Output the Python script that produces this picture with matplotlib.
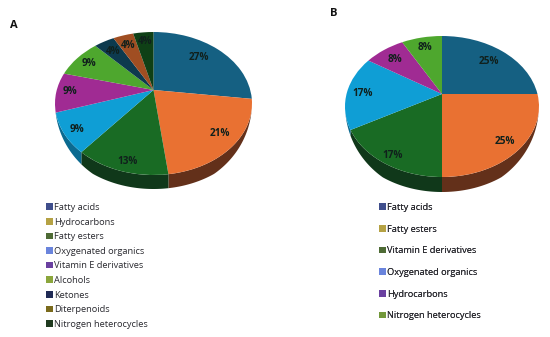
import numpy as np
import matplotlib
matplotlib.use("Agg")
import matplotlib.pyplot as plt
from matplotlib.patches import Patch
from matplotlib.transforms import Transform

plt.rcParams['font.family'] = ['Open Sans', 'DejaVu Sans']

labels_a = ["Fatty acids", "Hydrocarbons", "Fatty esters", "Oxygenated organics",
            "Vitamin E derivatives", "Alcohols", "Ketones", "Diterpenoids",
            "Nitrogen heterocycles"]
values_a = [27, 21, 13, 9, 9, 9, 4, 4, 4]
labels_b = ["Fatty acids", "Fatty esters", "Vitamin E derivatives",
            "Oxygenated organics", "Hydrocarbons", "Nitrogen heterocycles"]
values_b = [25, 25, 17, 17, 8, 8]

slice_colors = ["#156082", "#E97132", "#196B24", "#0F9ED5", "#A02B93", "#4EA72E",
                "#0D3A4E", "#A04E22", "#0F4016"]
side_colors = ["#0B3446", "#63301A", "#10381A", "#0B6A90", "#6A1D62", "#2F6A1C",
               "#07202B", "#5E2E14", "#08240C"]
legend_a = ["#3F4E8C", "#B5A244", "#4E6B35", "#6A84DC", "#6A40A0", "#8BA63C",
            "#1F2A55", "#7A6A1C", "#1F3A20"]
legend_b = ["#3F4E8C", "#B5A244", "#4E6B35", "#6A84DC", "#6A40A0", "#72983A"]

# layout only: where each percentage label sits, in figure pixels
label_xy_a = [(199, 57), (220, 134), (128, 162), (77, 129), (70, 92), (89, 63),
              (113, 51), (128, 45), (145, 41)]
label_xy_b = [(489, 61), (505, 141), (393, 155), (363, 93), (395, 60), (425, 47)]


class Perspective(Transform):
    input_dims = output_dims = 2

    def __init__(self, cx, cy, up, down, rx):
        super().__init__()
        self.k = (down / up - 1) / (down / up + 1)
        self.a = up * (1 + self.k)
        self.b = rx * np.sqrt(1 - self.k ** 2)
        self.cx, self.cy = cx, cy

    def transform_non_affine(self, pts):
        pts = np.asarray(pts, dtype=float)
        den = 1 + self.k * pts[:, 1]
        return np.column_stack([self.cx + self.b * pts[:, 0] / den,
                                self.cy - self.a * pts[:, 1] / den])


fig = plt.figure(figsize=(5.5, 3.37), dpi=100, facecolor="white")
ax = fig.add_axes([0, 0, 1, 1])


def draw_pie(values, persp, depth, label_xy):
    wedges, _, autotexts = ax.pie(values, colors=slice_colors, startangle=90,
                                  counterclock=False, autopct='%d%%',
                                  textprops=dict(fontsize=7.2, fontweight='bold',
                                                 color='#10201c'))
    for w, side in zip(wedges, side_colors):
        w.set_transform(persp + ax.transData)
        w.set_zorder(2)
        th = np.radians(np.linspace(w.theta1, w.theta2, 80))
        rim = persp.transform(np.column_stack([np.cos(th), np.sin(th)]))
        taper = np.clip((-np.sin(th) - 0.25) / 0.6, 0, 1)
        shifted = rim + np.column_stack([np.zeros_like(th), depth * taper])
        ax.fill(np.r_[rim[:, 0], shifted[::-1, 0]], np.r_[rim[:, 1], shifted[::-1, 1]],
                color=side, lw=0, zorder=1)
    for t, xy in zip(autotexts, label_xy):
        t.set_position(xy)
        t.set_zorder(3)


persp_a = Perspective(153.5, 90, 58, 85, 98.5)
persp_b = Perspective(442, 94, 58, 83, 97)
draw_pie(values_a, persp_a, 14, label_xy_a)
draw_pie(values_b, persp_b, 15, label_xy_b)

ax.set_aspect('auto')
ax.set_xlim(0, 550)
ax.set_ylim(337, 0)
ax.axis('off')


def add_legend(names, colors, x, top, spacing):
    handles = [Patch(facecolor=c, edgecolor='none', label=n) for n, c in zip(names, colors)]
    leg = ax.legend(handles=handles, loc='upper left', bbox_to_anchor=(x, top),
                    bbox_transform=ax.transData, frameon=False, borderpad=0,
                    borderaxespad=0, fontsize=6.7, handlelength=0.7, handleheight=0.7,
                    handletextpad=0.15, labelspacing=spacing, labelcolor='#2a2a30')
    ax.add_artist(leg)


add_legend(labels_a, legend_a, 46, 203, 0.6)
add_legend(labels_b, legend_b, 379, 203, 1.36)

ax.text(14, 25, "A", fontsize=8, fontweight='bold', ha='center', va='center', color='#111111')
ax.text(333.5, 13, "B", fontsize=8, fontweight='bold', ha='center', va='center', color='#111111')

fig.savefig("out.png", dpi=100, facecolor="white")
